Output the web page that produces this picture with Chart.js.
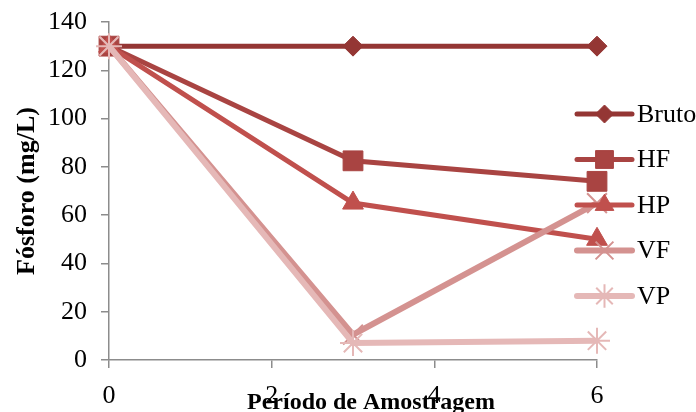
<!DOCTYPE html>
<html>
<head>
<meta charset="utf-8">
<script src="https://cdn.jsdelivr.net/npm/chart.js@4/dist/chart.umd.min.js"></script>
<style>
  html, body { margin: 0; padding: 0; background: #fff; }
  #wrap { width: 696px; height: 412px; position: relative; }
</style>
</head>
<body>
<div id="wrap"><canvas id="c" width="696" height="412"></canvas></div>
<script>
// Sampling periods and phosphorus concentrations (mg/L)
const periods = [0, 3, 6];
const bruto = [130, 130, 130];
const hf = [130, 82.5, 74];
const hp = [130, 65, 50];
const vf = [130, 10.5, 65];
const vp = [130, 7, 8];
const seriesNames = ['Bruto', 'HF', 'HP', 'VF', 'VP'];
const xTicks = [0, 2, 4, 6];
const yTicks = [0, 20, 40, 60, 80, 100, 120, 140];

const serif = "'Liberation Serif', 'Times New Roman', serif";

function pts(vals) { return vals.map((v, i) => ({ x: periods[i], y: v })); }

const styles = [
  { color: '#943634', point: 'rectRot', radius: 10, width: 5, pw: 1 },
  { color: '#A94442', point: 'rect', radius: 14, width: 5, pw: 1 },
  { color: '#C0504D', point: 'triangle', radius: 12, width: 5, pw: 1 },
  { color: '#D49290', point: 'crossRot', radius: 14, width: 6, pw: 2 },
  { color: '#E5B8B7', point: 'star', radius: 13, width: 6, pw: 2 }
];
const values = [bruto, hf, hp, vf, vp];

const datasets = values.map((vals, i) => ({
  label: seriesNames[i],
  data: pts(vals),
  borderColor: styles[i].color,
  backgroundColor: styles[i].color,
  borderWidth: styles[i].width,
  pointStyle: styles[i].point,
  pointRadius: styles[i].radius,
  pointHoverRadius: styles[i].radius,
  pointBorderWidth: styles[i].pw,
  pointBorderColor: styles[i].color,
  pointBackgroundColor: styles[i].color,
  tension: 0,
  clip: false,
  order: values.length - i
}));

// Legend on the right: line segment with the series marker in the middle
const sideLegend = {
  id: 'sideLegend',
  afterDraw(chart) {
    const ctx = chart.ctx;
    const x0 = 577, x1 = 632, y0 = 114, step = 45.5;
    chart.data.datasets.forEach((ds, i) => {
      const y = y0 + i * step;
      ctx.save();
      ctx.strokeStyle = ds.borderColor;
      ctx.lineWidth = ds.borderWidth;
      ctx.lineCap = 'round';
      ctx.beginPath();
      ctx.moveTo(x0, y);
      ctx.lineTo(x1, y);
      ctx.stroke();
      ctx.fillStyle = ds.pointBackgroundColor;
      ctx.strokeStyle = ds.pointBorderColor;
      ctx.lineWidth = ds.pointBorderWidth;
      ctx.lineCap = 'butt';
      Chart.helpers.drawPoint(ctx, { pointStyle: ds.pointStyle, radius: ds.pointRadius * 0.9, borderWidth: ds.pointBorderWidth, rotation: 0 }, (x0 + x1) / 2, y);
      ctx.fillStyle = '#000';
      ctx.font = '26px ' + serif;
      ctx.textAlign = 'left';
      ctx.textBaseline = 'middle';
      ctx.fillText(ds.label, 637, y + 1);
      ctx.restore();
    });
    // x axis title
    ctx.save();
    ctx.fillStyle = '#000';
    ctx.font = 'bold 24px ' + serif;
    ctx.textAlign = 'center';
    ctx.textBaseline = 'alphabetic';
    ctx.fillText('Período de Amostragem', 371, 409);
    ctx.restore();
  }
};

new Chart(document.getElementById('c'), {
  type: 'line',
  data: { datasets },
  options: {
    responsive: false,
    animation: false,
    devicePixelRatio: 1,
    layout: { padding: { top: 22, right: 99, bottom: 0, left: 0 } },
    plugins: { legend: { display: false }, tooltip: { enabled: false } },
    scales: {
      x: {
        type: 'linear',
        min: 0, max: 6,
        afterFit(s) { s.height = 52; s.paddingLeft = 0; s.paddingRight = 0; },
        afterBuildTicks(s) { s.ticks = xTicks.map(v => ({ value: v })); },
        grid: { drawOnChartArea: false, drawTicks: true, tickLength: 8, color: '#8c8c8c', lineWidth: 1.5 },
        border: { display: true, color: '#8c8c8c', width: 1.5 },
        ticks: { color: '#000', font: { family: serif, size: 26 }, padding: 13, maxRotation: 0 }
      },
      y: {
        min: 0, max: 140,
        afterFit(s) { s.width = 109; s.paddingTop = 0; s.paddingBottom = 0; },
        afterBuildTicks(s) { s.ticks = yTicks.map(v => ({ value: v })); },
        grid: { drawOnChartArea: false, drawTicks: true, tickLength: 8, color: '#8c8c8c', lineWidth: 1.5 },
        border: { display: true, color: '#8c8c8c', width: 1.5 },
        ticks: { color: '#000', font: { family: serif, size: 26 }, padding: 14 },
        title: { display: true, text: 'Fósforo (mg/L)', color: '#000', font: { family: serif, size: 26, weight: 'bold' }, padding: { top: 12, bottom: 0 } }
      }
    }
  },
  plugins: [sideLegend]
});
</script>
</body>
</html>
